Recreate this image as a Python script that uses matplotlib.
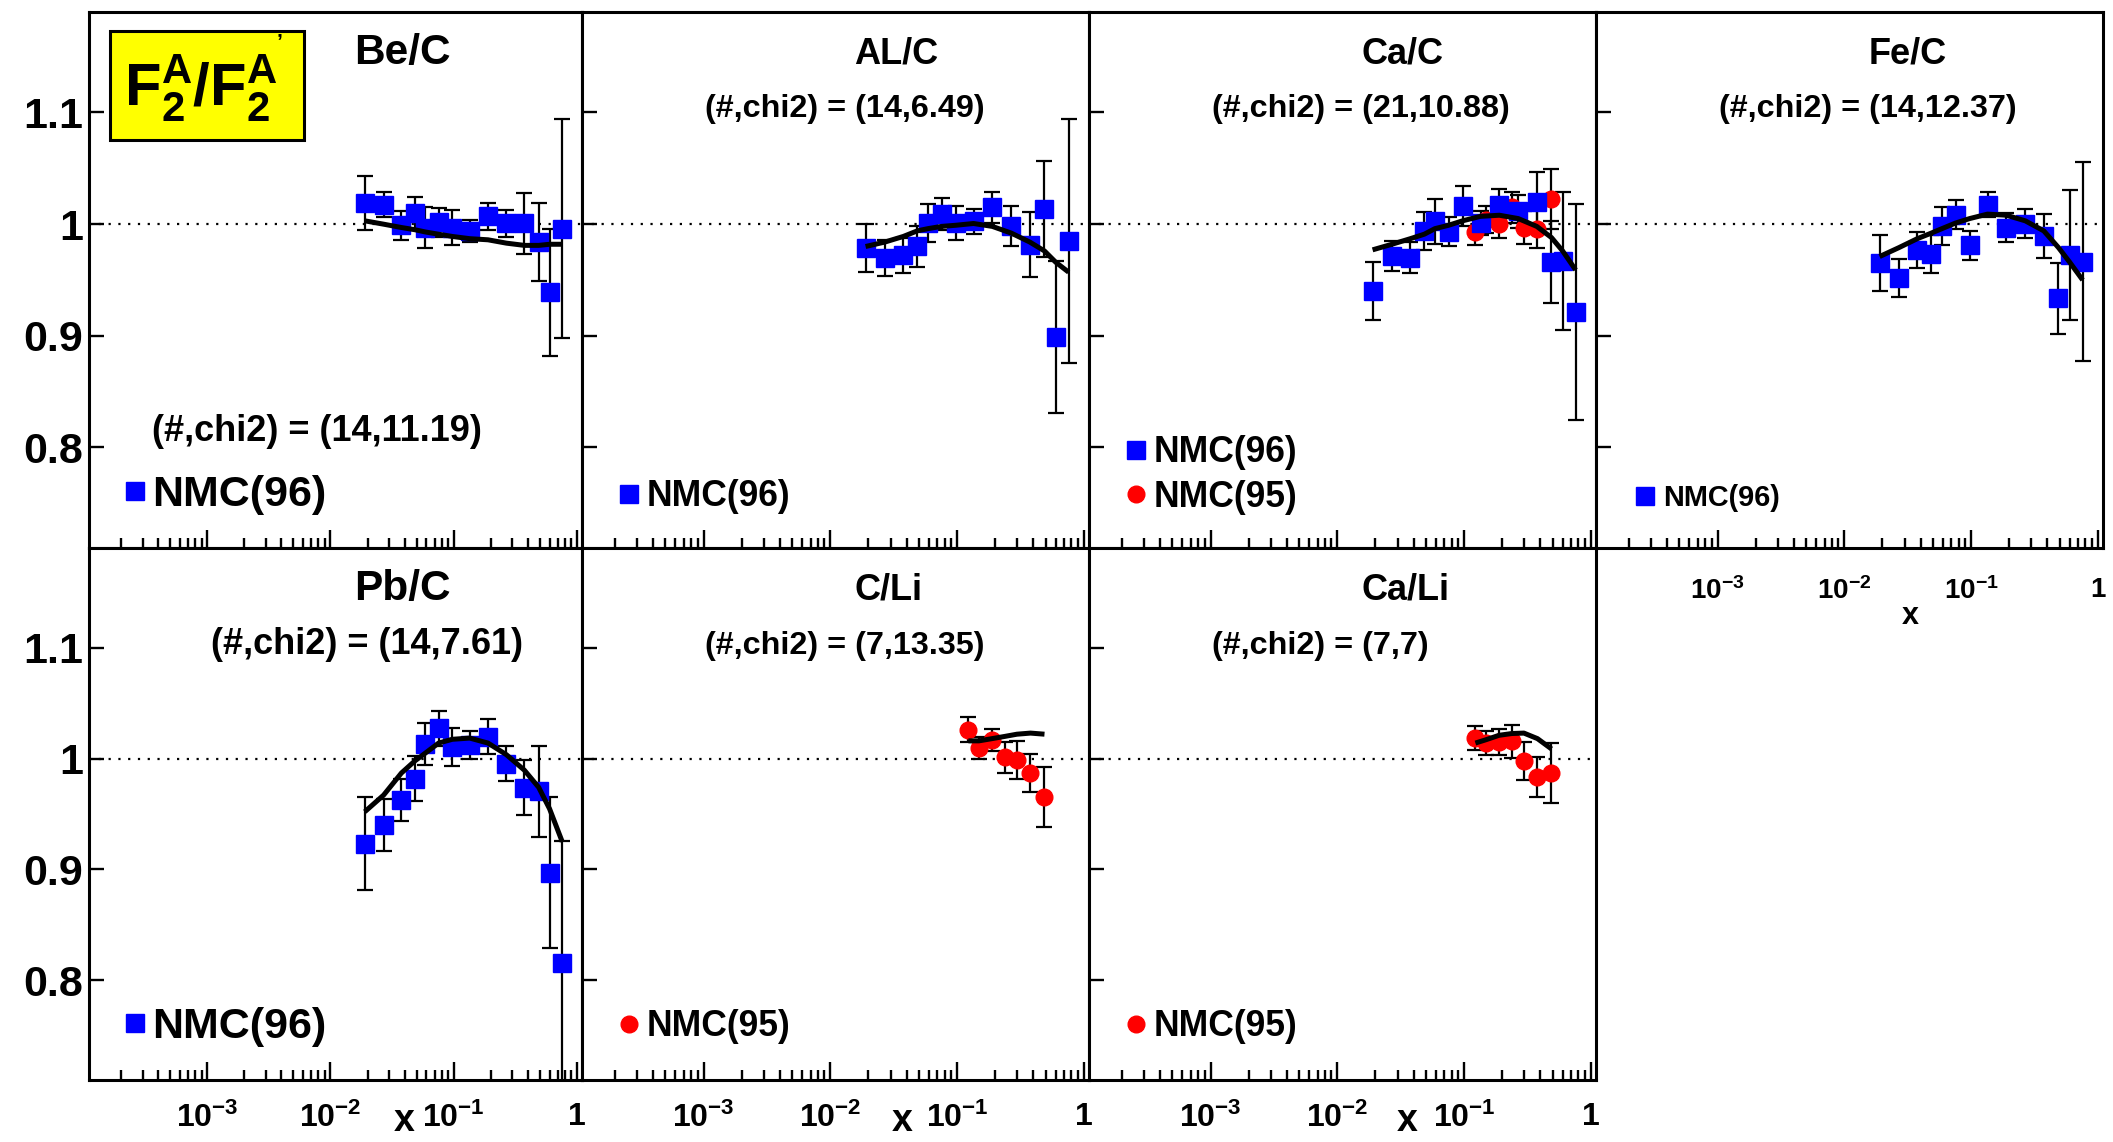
import numpy as np
import matplotlib
matplotlib.use('Agg')
import matplotlib.pyplot as plt
from matplotlib.ticker import LogLocator, NullFormatter
from matplotlib.lines import Line2D
from matplotlib.patches import Rectangle

plt.rcParams['font.family'] = ['Liberation Sans', 'DejaVu Sans']
plt.rcParams['font.weight'] = 'bold'
plt.rcParams['mathtext.fontset'] = 'custom'
plt.rcParams['mathtext.rm'] = 'Liberation Sans:bold'
plt.rcParams['mathtext.it'] = 'Liberation Sans:bold'
plt.rcParams['mathtext.bf'] = 'Liberation Sans:bold'
plt.rcParams['mathtext.default'] = 'rm'

# x bins of the two data sets
x_nmc96 = [0.019, 0.027, 0.0377, 0.0486, 0.059, 0.0755, 0.0975, 0.135, 0.19,
           0.268, 0.375, 0.49, 0.6, 0.76]
x_nmc95 = [0.123, 0.149, 0.189, 0.238, 0.297, 0.38, 0.49]

# Be/C
bec_y = [1.019, 1.0176, 0.999, 1.0096, 0.997, 1.0016, 0.997, 0.9936, 1.007,
         1.0006, 1.0006, 0.984, 0.939, 0.996]
bec_err = [0.024, 0.011, 0.013, 0.015, 0.018, 0.013, 0.016, 0.010, 0.012,
           0.012, 0.027, 0.035, 0.057, 0.098]
bec_fit = [1.003, 1.000, 0.997, 0.995, 0.993, 0.991, 0.989, 0.987, 0.986,
           0.983, 0.981, 0.981, 0.982, 0.982]

# AL/C
alc_y = [0.9786, 0.9697, 0.972, 0.980, 1.001, 1.009, 1.001, 1.0025, 1.015,
         0.9985, 0.9815, 1.0137, 0.899, 0.985]
alc_err = [0.0215, 0.016, 0.016, 0.018, 0.017, 0.014, 0.015, 0.011, 0.014,
           0.018, 0.029, 0.043, 0.068, 0.109]
alc_fit = [0.980, 0.984, 0.989, 0.994, 0.996, 0.998, 0.999, 1.0006, 0.998,
           0.992, 0.984, 0.976, 0.966, 0.957]

# Ca/C
cac_y96 = [0.9403, 0.9716, 0.970, 0.994, 1.0026, 0.993, 1.0163, 1.001, 1.0176,
           1.0115, 1.0195, 0.966, 0.967, 0.9215]
cac_err96 = [0.026, 0.0135, 0.014, 0.017, 0.02, 0.013, 0.018, 0.011, 0.014,
             0.015, 0.027, 0.037, 0.062, 0.097]
cac_y95 = [0.993, 1.004, 1.0, 1.015, 0.997, 0.996, 1.0227]
cac_err95 = [0.012, 0.012, 0.012, 0.014, 0.015, 0.017, 0.027]
cac_fit = [0.977, 0.982, 0.987, 0.991, 0.996, 0.999, 1.003, 1.007, 1.008,
           1.005, 0.998, 0.988, 0.976, 0.959]

# Fe/C
fec_y = [0.9653, 0.9518, 0.977, 0.9737, 0.998, 1.0084, 0.981, 1.0175, 0.9967,
         1.0004, 0.9894, 0.9336, 0.9726, 0.9664]
fec_err = [0.025, 0.017, 0.016, 0.017, 0.017, 0.013, 0.013, 0.011, 0.013,
           0.013, 0.02, 0.032, 0.058, 0.089]
fec_fit = [0.971, 0.979, 0.987, 0.992, 0.996, 1.001, 1.005, 1.009, 1.008,
           1.003, 0.994, 0.979, 0.966, 0.950]

# Pb/C
pbc_y = [0.9233, 0.9397, 0.9624, 0.9819, 1.0129, 1.0272, 1.0105, 1.0122,
         1.0199, 0.9955, 0.9739, 0.9704, 0.8972, 0.816]
pbc_err = [0.042, 0.0235, 0.019, 0.02, 0.019, 0.016, 0.017, 0.013, 0.016,
           0.0155, 0.025, 0.041, 0.068, 0.11]
pbc_fit = [0.952, 0.967, 0.987, 0.998, 1.005, 1.014, 1.0174, 1.0185, 1.014,
           1.0035, 0.9895, 0.974, 0.9547, 0.925]

# C/Li
cli_y = [1.0261, 1.0098, 1.0167, 1.001, 0.999, 0.9868, 0.965]
cli_err = [0.011, 0.01, 0.01, 0.014, 0.017, 0.017, 0.027]
cli_fit = [1.016, 1.016, 1.018, 1.020, 1.022, 1.023, 1.022]

# Ca/Li
cali_y = [1.0185, 1.014, 1.015, 1.0157, 0.9976, 0.9836, 0.987]
cali_err = [0.011, 0.011, 0.012, 0.015, 0.017, 0.018, 0.027]
cali_fit = [1.014, 1.017, 1.021, 1.0226, 1.023, 1.018, 1.0087]

W, H = 2113, 1142
fig = plt.figure(figsize=(W / 100, H / 100), dpi=100)

cols = [(89, 582), (582, 1089), (1089, 1596), (1596, 2103)]
rows = [(12, 548), (548, 1080)]

NMC96 = ('NMC(96)', 's', 'blue', 12.5)
NMC95 = ('NMC(95)', 'o', 'red', 12.0)

panels = [
    dict(title='Be/C', chi='(#,chi2) = (14,11.19)', col=0, row=0,
         sets=[(NMC96, x_nmc96, bec_y, bec_err)], fit=(x_nmc96, bec_fit),
         big=True, title_y=0.923, chi_pos=(0.128, 0.217), key=(0.071, 0.098),
         keyfs=31, keypad=0.15, xlabels=False),
    dict(title='AL/C', chi='(#,chi2) = (14,6.49)', col=1, row=0,
         sets=[(NMC96, x_nmc96, alc_y, alc_err)], fit=(x_nmc96, alc_fit),
         big=False, title_y=0.921, chi_pos=(0.242, 0.819), key=(0.075, 0.096),
         keyfs=25.6, keypad=0.26, xlabels=False),
    dict(title='Ca/C', chi='(#,chi2) = (21,10.88)', col=2, row=0,
         sets=[(NMC95, x_nmc95, cac_y95, cac_err95), (NMC96, x_nmc96, cac_y96, cac_err96)],
         fit=(x_nmc96, cac_fit),
         big=False, title_y=0.921, chi_pos=(0.242, 0.819), key=(0.075, 0.136),
         keyfs=25.6, keypad=0.26, xlabels=False),
    dict(title='Fe/C', chi='(#,chi2) = (14,12.37)', col=3, row=0,
         sets=[(NMC96, x_nmc96, fec_y, fec_err)], fit=(x_nmc96, fec_fit),
         big=False, title_y=0.921, chi_pos=(0.242, 0.819), key=(0.082, 0.094),
         keyfs=20.8, keypad=0.37, xlabels=True),
    dict(title='Pb/C', chi='(#,chi2) = (14,7.61)', col=0, row=1,
         sets=[(NMC96, x_nmc96, pbc_y, pbc_err)], fit=(x_nmc96, pbc_fit),
         big=True, title_y=0.922, chi_pos=(0.247, 0.819), key=(0.071, 0.1),
         keyfs=31, keypad=0.15, xlabels=True),
    dict(title='C/Li', chi='(#,chi2) = (7,13.35)', col=1, row=1,
         sets=[(NMC95, x_nmc95, cli_y, cli_err)], fit=(x_nmc95, cli_fit),
         big=False, title_y=0.921, chi_pos=(0.242, 0.815), key=(0.075, 0.1),
         keyfs=25.6, keypad=0.26, xlabels=True),
    dict(title='Ca/Li', chi='(#,chi2) = (7,7)', col=2, row=1,
         sets=[(NMC95, x_nmc95, cali_y, cali_err)], fit=(x_nmc95, cali_fit),
         big=False, title_y=0.921, chi_pos=(0.242, 0.815), key=(0.075, 0.1),
         keyfs=25.6, keypad=0.26, xlabels=True),
]

xtick_vals = [1e-3, 1e-2, 1e-1, 1]
xtick_text = [r'$10^{-3}$', r'$10^{-2}$', r'$10^{-1}$', '1']
ytick_vals = [0.8, 0.9, 1.0, 1.1]
ytick_text = ['0.8', '0.9', '1', '1.1']

for p in panels:
    L, R = cols[p['col']]
    T, B = rows[p['row']]
    ax = fig.add_axes([L / W, 1 - B / H, (R - L) / W, (B - T) / H])
    ax.set_xscale('log')
    ax.set_xlim(1.1e-4, 1.1)
    ax.set_ylim(0.71, 1.19)
    for s in ax.spines.values():
        s.set_linewidth(2.2)

    ax.axhline(1.0, color='black', lw=1.6, ls=(0, (1, 3.4)), zorder=1)

    for (lab, mk, colr, ms), xs, ys, es in p['sets']:
        ax.errorbar(xs, ys, yerr=es, fmt=mk, color=colr, mec=colr, ms=ms,
                    ecolor='black', elinewidth=1.6, capsize=5.5, capthick=1.6,
                    zorder=2)
    fx, fy = p['fit']
    ax.plot(fx, fy, color='black', lw=3.6, zorder=5, solid_capstyle='butt')

    # ticks
    ax.set_xticks(xtick_vals)
    ax.xaxis.set_minor_locator(LogLocator(base=10, subs=np.arange(2, 10), numticks=20))
    ax.xaxis.set_minor_formatter(NullFormatter())
    ax.set_yticks(ytick_vals)
    ax.tick_params(axis='both', which='both', direction='in', top=False, right=False)
    ax.tick_params(axis='x', which='major', length=13, width=1.7)
    ax.tick_params(axis='x', which='minor', length=7, width=1.7)
    ax.tick_params(axis='y', which='major', length=10.5, width=1.7)

    if p['col'] == 0:
        ax.set_yticklabels(ytick_text, fontsize=31, fontweight='bold')
        ax.tick_params(axis='y', pad=4)
    else:
        ax.set_yticklabels([])
    if p['xlabels']:
        if p['row'] == 1:
            ax.set_xticklabels(xtick_text, fontsize=23)
            ax.tick_params(axis='x', which='major', pad=16)
        else:
            ax.set_xticklabels(xtick_text, fontsize=20)
            ax.tick_params(axis='x', which='major', pad=21)
    else:
        ax.set_xticklabels([])

    tfs = 30.5 if p['big'] else 26
    cfs = 26 if p['big'] else 23.3
    ax.text(0.537, p['title_y'], p['title'], transform=ax.transAxes, ha='left',
            va='center', fontsize=tfs, fontweight='bold')
    ax.text(p['chi_pos'][0], p['chi_pos'][1], p['chi'], transform=ax.transAxes,
            ha='left', va='center', fontsize=cfs, fontweight='bold')

    handles = []
    labels = []
    for (lab, mk, colr, ms), xs, ys, es in p['sets'][::-1]:
        handles.append(Line2D([], [], ls='none', marker=mk, color=colr, mec=colr, ms=ms))
        labels.append(lab)
    ax.legend(handles, labels, loc='center left', bbox_to_anchor=p['key'],
              frameon=False, prop={'size': p['keyfs'], 'weight': 'bold'},
              handlelength=0.5, handletextpad=p['keypad'], borderpad=0,
              borderaxespad=0, labelspacing=0.26)

# axis titles
for xpx, ypx, fs in [(404, 1121, 27), (902, 1121, 27), (1407, 1121, 27), (1910, 616, 22)]:
    fig.text(xpx / W, 1 - ypx / H, 'x', ha='center', va='center', fontsize=fs,
             fontweight='bold')

# yellow label box
fig.patches.append(Rectangle((110 / W, 1 - 140 / H), 194 / W, 109 / H,
                             transform=fig.transFigure, facecolor='#ffff00',
                             edgecolor='black', lw=2.2, zorder=10))
fig.text(201 / W, 1 - 89 / H, r'$F_2^A/F_2^A$', ha='center', va='center',
         fontsize=43, zorder=11)
fig.text(279 / W, 1 - 42 / H, '\u2019', ha='center', va='center', fontsize=15,
         zorder=11)

fig.savefig('out.png', dpi=100)
